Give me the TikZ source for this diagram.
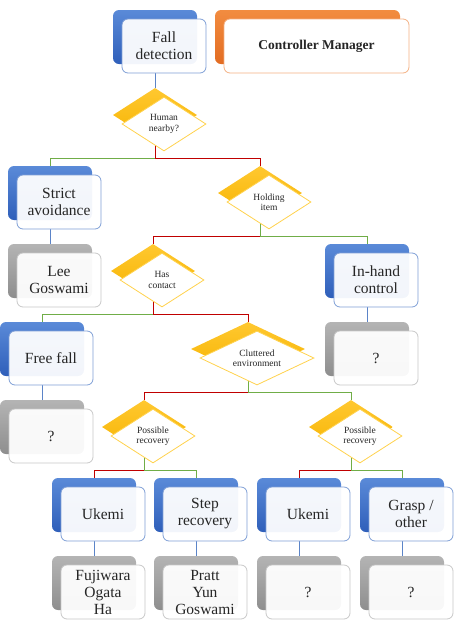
\documentclass[tikz,border=0pt]{standalone}
\usepackage{fontspec}
\setmainfont{Liberation Serif}
\newfontfamily\boxfont{Liberation Serif}
\usetikzlibrary{shapes.geometric,backgrounds}

\definecolor{blueT}{HTML}{5A8AD8}
\definecolor{blueB}{HTML}{2F5FBA}
\definecolor{blueE}{HTML}{7F9FD6}
\definecolor{grayT}{HTML}{B4B4B4}
\definecolor{grayB}{HTML}{8E8E8E}
\definecolor{grayE}{HTML}{C8C8C8}
\definecolor{orangeT}{HTML}{F28C40}
\definecolor{orangeB}{HTML}{E26C22}
\definecolor{orangeE}{HTML}{F4B183}
\definecolor{yellowT}{HTML}{FFC830}
\definecolor{yellowB}{HTML}{F6B300}
\definecolor{yellowE}{HTML}{FFD24D}
\definecolor{conblue}{HTML}{5B84C8}
\definecolor{congreen}{HTML}{70AD47}
\definecolor{conred}{HTML}{C00000}
\definecolor{ink}{HTML}{262626}

\tikzset{
  back/.style={rounded corners=6pt, minimum width=84pt, minimum height=54pt, inner sep=0pt},
  blueback/.style={back, top color=blueT, bottom color=blueB},
  grayback/.style={back, top color=grayT, bottom color=grayB},
  front/.style={draw, line width=0.8pt, rounded corners=6pt, fill=white, fill opacity=0.94, text opacity=1,
    minimum width=84pt, minimum height=54pt, inner sep=1pt, align=center, text=ink,
    font=\boxfont\fontsize{15.5}{17}\selectfont},
  bluefront/.style={front, draw=blueE},
  grayfront/.style={front, draw=grayE},
  dback/.style={diamond, aspect=1.55, minimum width=84pt, minimum height=54pt, inner sep=0pt,
    top color=yellowT, bottom color=yellowB},
  dfront/.style={diamond, aspect=1.55, draw=yellowE, line width=0.8pt, fill=white,
    minimum width=84pt, minimum height=54pt, inner sep=0pt, align=center, text=ink,
    font=\boxfont\fontsize{9.5}{10.5}\selectfont},
  con/.style={line width=0.9pt},
  bluecon/.style={con, draw=conblue},
  greencon/.style={con, draw=congreen},
  redcon/.style={con, draw=conred},
  off/.style={shift={(9pt,-9pt)}}
}

\begin{document}
\begin{tikzpicture}[x=1pt,y=-1pt]
\useasboundingbox (0,0) rectangle (454,622);

% top row
\node[blueback] (fall) at (155,37) {};
\node[bluefront] (fall-f) at ([off]fall.center) {Fall\\detection};
\node[back, minimum width=185pt, top color=orangeT, bottom color=orangeB] (ctrl) at (307.5,37) {};
\node[front, draw=orangeE, fill opacity=1, minimum width=185pt, font=\boxfont\fontsize{13.5}{16}\selectfont\bfseries]
  (ctrl-f) at ([off]ctrl.center) {Controller Manager};

% decisions
\node[dback] (human) at (155,115) {};
\node[dfront] (human-f) at ([off]human.center) {Human\\nearby?};
\node[dback] (holding) at (260,193) {};
\node[dfront] (holding-f) at ([off]holding.center) {Holding\\item};
\node[dback] (contact) at (153,271) {};
\node[dfront] (contact-f) at ([off]contact.center) {Has\\contact};
\node[dback, aspect=2, minimum width=114pt] (clutter) at (248,349) {};
\node[dfront, aspect=2, minimum width=114pt] (clutter-f) at ([off]clutter.center) {Cluttered\\environment};
\node[dback] (recA) at (144,427) {};
\node[dfront] (recA-f) at ([off]recA.center) {Possible\\recovery};
\node[dback] (recB) at (351,427) {};
\node[dfront] (recB-f) at ([off]recB.center) {Possible\\recovery};

% controllers
\node[blueback] (strict) at (50,193) {};
\node[bluefront] (strict-f) at ([off]strict.center) {Strict\\avoidance};
\node[blueback] (inhand) at (367,271) {};
\node[bluefront] (inhand-f) at ([off]inhand.center) {In-hand\\control};
\node[blueback] (freefall) at (42,349) {};
\node[bluefront] (freefall-f) at ([off]freefall.center) {Free fall};
\node[blueback] (ukemiA) at (94,505) {};
\node[bluefront] (ukemiA-f) at ([off]ukemiA.center) {Ukemi};
\node[blueback] (step) at (196,505) {};
\node[bluefront] (step-f) at ([off]step.center) {Step\\recovery};
\node[blueback] (ukemiB) at (299,505) {};
\node[bluefront] (ukemiB-f) at ([off]ukemiB.center) {Ukemi};
\node[blueback] (grasp) at (402,505) {};
\node[bluefront] (grasp-f) at ([off]grasp.center) {Grasp /\\other};

% references
\node[grayback] (lee) at (50,271) {};
\node[grayfront] (lee-f) at ([off]lee.center) {Lee\\Goswami};
\node[grayback] (inhandref) at (367,349) {};
\node[grayfront] (inhandref-f) at ([off]inhandref.center) {?};
\node[grayback] (freefallref) at (42,427) {};
\node[grayfront] (freefallref-f) at ([off]freefallref.center) {?};
\node[grayback] (ukemiAref) at (94,583) {};
\node[grayfront] (ukemiAref-f) at ([off]ukemiAref.center) {Fujiwara\\Ogata\\Ha};
\node[grayback] (stepref) at (196,583) {};
\node[grayfront] (stepref-f) at ([off]stepref.center) {Pratt\\Yun\\Goswami};
\node[grayback] (ukemiBref) at (299,583) {};
\node[grayfront] (ukemiBref-f) at ([off]ukemiBref.center) {?};
\node[grayback] (graspref) at (402,583) {};
\node[grayfront] (graspref-f) at ([off]graspref.center) {?};

% branch points
\coordinate (human-j) at ([yshift=-43pt]human.center);
\coordinate (holding-j) at ([yshift=-43pt]holding.center);
\coordinate (contact-j) at ([yshift=-43pt]contact.center);
\coordinate (clutter-j) at ([yshift=-43pt]clutter.center);
\coordinate (recA-j) at ([yshift=-43pt]recA.center);
\coordinate (recB-j) at ([yshift=-43pt]recB.center);

\begin{scope}[on background layer]
\draw[bluecon] (fall-f.south -| fall.center) -- (human.north);
\draw[greencon] (human.center) -- (human-j) -| (strict.north);
\draw[redcon] (human.center) -- (human-j) -| (holding.north);
\draw[redcon] (holding.center) -- (holding-j) -| (contact.north);
\draw[greencon] (holding.center) -- (holding-j) -| (inhand.north);
\draw[greencon] (contact.center) -- (contact-j) -| (freefall.north);
\draw[redcon] (contact.center) -- (contact-j) -| (clutter.north);
\draw[redcon] (clutter.center) -- (clutter-j) -| (recA.north);
\draw[greencon] (clutter.center) -- (clutter-j) -| (recB.north);
\draw[redcon] (recA.center) -- (recA-j) -| (ukemiA.north);
\draw[greencon] (recA.center) -- (recA-j) -| (step.north);
\draw[redcon] (recB.center) -- (recB-j) -| (ukemiB.north);
\draw[greencon] (recB.center) -- (recB-j) -| (grasp.north);
\draw[bluecon] (strict-f.south -| strict.center) -- (lee.north);
\draw[bluecon] (inhand-f.south -| inhand.center) -- (inhandref.north);
\draw[bluecon] (freefall-f.south -| freefall.center) -- (freefallref.north);
\draw[bluecon] (ukemiA-f.south -| ukemiA.center) -- (ukemiAref.north);
\draw[bluecon] (step-f.south -| step.center) -- (stepref.north);
\draw[bluecon] (ukemiB-f.south -| ukemiB.center) -- (ukemiBref.north);
\draw[bluecon] (grasp-f.south -| grasp.center) -- (graspref.north);
\end{scope}
\end{tikzpicture}
\end{document}
